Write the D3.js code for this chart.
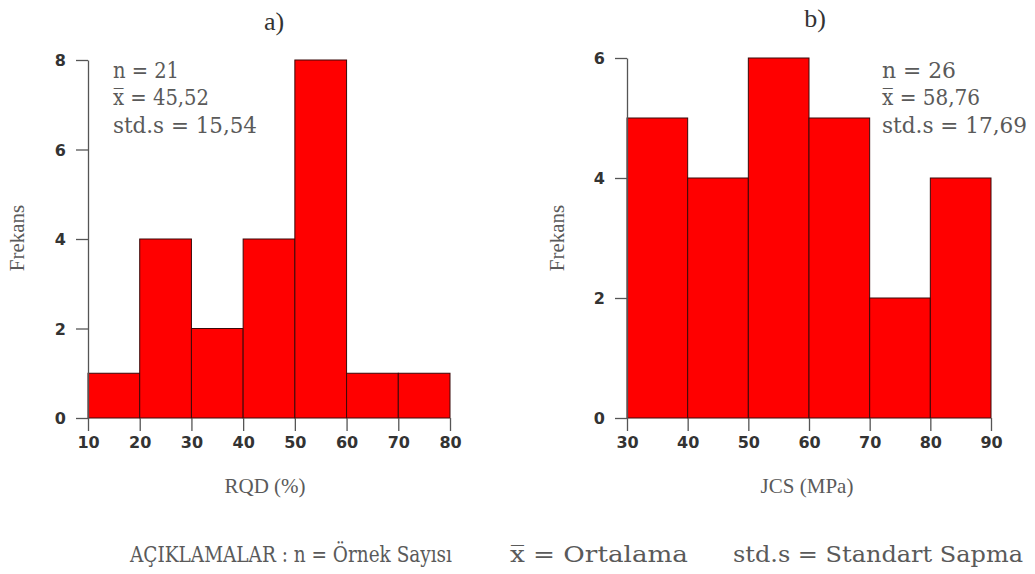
<!DOCTYPE html>
<html>
<head>
<meta charset="utf-8">
<script src="https://cdnjs.cloudflare.com/ajax/libs/d3/7.8.5/d3.min.js"></script>
<style>
  html, body { margin: 0; padding: 0; background: #fff; }
  svg { display: block; }
</style>
</head>
<body>
<svg id="chart" width="1035" height="574"></svg>
<script>
// Histogram a) RQD (%)
const rqdBinEdges = [10, 20, 30, 40, 50, 60, 70, 80];
const rqdCounts = [1, 4, 2, 4, 8, 1, 1];
const rqdYTicks = [0, 2, 4, 6, 8];
const rqdStats = ["n = 21", "x\u0305 = 45,52", "std.s = 15,54"];

// Histogram b) JCS (MPa)
const jcsBinEdges = [30, 40, 50, 60, 70, 80, 90];
const jcsCounts = [5, 4, 6, 5, 2, 4];
const jcsYTicks = [0, 2, 4, 6];
const jcsStats = ["n = 26", "x\u0305 = 58,76", "std.s = 17,69"];

const legendParts = ["AÇIKLAMALAR :  n = Örnek Sayısı", "x\u0305 = Ortalama", "std.s = Standart Sapma"];

const svg = d3.select("#chart");
const serif = "'Liberation Serif', 'Times New Roman', serif";
const slab = "'DejaVu Serif Condensed', 'DejaVu Serif', 'Liberation Serif', serif";
const tickFont = "'DejaVu Sans', sans-serif";
const textGray = "#5a5a5a";

function histogram(cfg) {
  const x = d3.scaleLinear().domain(d3.extent(cfg.edges)).range([cfg.x0, cfg.x1]);
  const y = d3.scaleLinear().domain([0, d3.max(cfg.yTicks)]).range([cfg.y0, cfg.y1]);
  const bins = cfg.counts.map((c, i) => ({ lo: cfg.edges[i], hi: cfg.edges[i + 1], c }));

  const g = svg.append("g");

  g.selectAll("rect.bar").data(bins).join("rect")
    .attr("class", "bar")
    .attr("x", d => x(d.lo))
    .attr("y", d => y(d.c))
    .attr("width", d => x(d.hi) - x(d.lo))
    .attr("height", d => y(0) - y(d.c))
    .attr("fill", "#ff0000")
    .attr("stroke", "#3a0a0a")
    .attr("stroke-width", 1);

  const yAxis = d3.axisLeft(y).tickValues(cfg.yTicks).tickFormat(d3.format("d"))
    .tickSize(12).tickPadding(10).tickSizeOuter(0);
  const ya = g.append("g").attr("transform", `translate(${cfg.x0},0)`).call(yAxis);

  const xAxis = d3.axisBottom(x).tickValues(cfg.edges).tickFormat(d3.format("d"))
    .tickSize(13).tickPadding(6).tickSizeOuter(0);
  const xa = g.append("g").attr("transform", `translate(0,${cfg.y0})`).call(xAxis);
  xa.select(".domain").remove();

  [ya, xa].forEach(a => {
    a.selectAll("line, path").attr("stroke", "#555").attr("stroke-width", 1.3);
    a.selectAll("text")
      .attr("fill", "#333")
      .style("font-family", tickFont)
      .style("font-weight", "bold")
      .style("font-size", "16px");
  });
  ya.selectAll("text").attr("dy", "0.36em");

  // panel title
  g.append("text")
    .attr("x", cfg.titleX).attr("y", cfg.titleY)
    .attr("text-anchor", "middle")
    .style("font-family", serif).style("font-size", "26px")
    .attr("fill", "#333")
    .text(cfg.title);

  // axis titles
  g.append("text")
    .attr("x", cfg.xLabelX).attr("y", 493)
    .attr("text-anchor", "middle")
    .style("font-family", serif).style("font-size", "21px")
    .attr("fill", textGray)
    .text(cfg.xLabel);

  g.append("text")
    .attr("transform", `translate(${cfg.yLabelX},238) rotate(-90)`)
    .attr("text-anchor", "middle")
    .style("font-family", serif).style("font-size", "21px")
    .attr("fill", textGray)
    .text("Frekans");

  // summary statistics
  g.append("g").selectAll("text").data(cfg.stats).join("text")
    .attr("x", cfg.statsX)
    .attr("y", (d, i) => cfg.statsY + i * 27.3)
    .style("font-family", slab).style("font-size", "23px")
    .attr("textLength", (d, i) => cfg.statsW[i])
    .attr("lengthAdjust", "spacingAndGlyphs")
    .attr("fill", textGray)
    .text(d => d);
}

histogram({
  edges: rqdBinEdges, counts: rqdCounts, yTicks: rqdYTicks,
  x0: 88, x1: 450, y0: 418, y1: 60,
  title: "a)", titleX: 274, titleY: 30,
  xLabel: "RQD (%)", xLabelX: 265, yLabelX: 24,
  stats: rqdStats, statsX: 113, statsY: 78, statsW: [66, 96, 144]
});

histogram({
  edges: jcsBinEdges, counts: jcsCounts, yTicks: jcsYTicks,
  x0: 627, x1: 991, y0: 418, y1: 58,
  title: "b)", titleX: 815, titleY: 27,
  xLabel: "JCS (MPa)", xLabelX: 807, yLabelX: 564,
  stats: jcsStats, statsX: 882, statsY: 78, statsW: [74, 98, 145]
});

// explanation line
const legendX = [130, 510, 733];
const legendW = [322, 178, 290];
svg.append("g").selectAll("text").data(legendParts).join("text")
  .attr("x", (d, i) => legendX[i])
  .attr("y", 562)
  .style("font-family", slab).style("font-size", "22px")
  .attr("textLength", (d, i) => legendW[i])
  .attr("lengthAdjust", "spacingAndGlyphs")
  .attr("fill", textGray)
  .text(d => d);
</script>
</body>
</html>
